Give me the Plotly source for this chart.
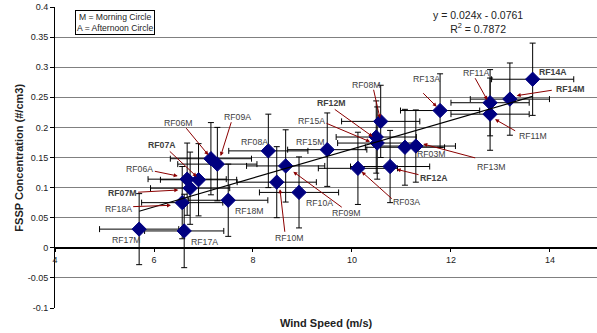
import plotly.graph_objects as go

# ---------------- data ----------------
flights = ["RF17M", "RF17A", "RF18A", "RF07M", "RF06A", "RF07A", "RF06M", "RF09A",
           "RF18M", "RF08A", "RF10M", "RF09M", "RF10A", "RF15M", "RF03A", "RF12M",
           "RF15A", "RF08M", "RF12A", "RF03M", "RF13M", "RF13A", "RF11A", "RF11M",
           "RF14M", "RF14A"]
wind_speed = [5.70, 6.61, 6.57, 6.73, 6.67, 6.90, 7.15, 7.28,
              7.50, 8.31, 8.48, 8.66, 8.93, 9.50, 10.12, 10.49,
              10.51, 10.58, 10.77, 11.07, 11.29, 11.78, 12.79, 12.79,
              13.19, 13.65]
fssp_conc = [0.031, 0.028, 0.075, 0.099, 0.114, 0.113, 0.148, 0.139,
             0.079, 0.161, 0.109, 0.136, 0.092, 0.163, 0.132, 0.184,
             0.174, 0.210, 0.135, 0.167, 0.169, 0.228, 0.241, 0.222,
             0.247, 0.280]
wind_err = [0.80, 0.80, 0.82, 0.80, 0.79, 0.77, 0.82, 0.80,
            0.80, 0.80, 0.80, 0.79, 0.80, 0.80, 0.80, 0.81,
            0.80, 0.79, 0.80, 0.80, 0.80, 0.80, 0.79, 0.79,
            0.80, 0.83]
fssp_err = [0.059, 0.061, 0.060, 0.060, 0.060, 0.060, 0.060, 0.061,
            0.060, 0.061, 0.059, 0.060, 0.059, 0.061, 0.060, 0.060,
            0.060, 0.060, 0.060, 0.063, 0.060, 0.061, 0.055, 0.060,
            0.060, 0.060]
bold_flights = ["RF07A", "RF07M", "RF12M", "RF12A", "RF14A", "RF14M"]

fit_slope = 0.024
fit_intercept = -0.0761
fit_r2 = 0.7872

y_tickvals = [-0.1, -0.05, 0, 0.05, 0.1, 0.15, 0.2, 0.25, 0.3, 0.35, 0.4]
y_ticktext = ["-0.1", "-0.05", "0", "0.05", "0.1", "0.15", "0.2", "0.25", "0.3", "0.35", "0.4"]
x_tickvals = [4, 6, 8, 10, 12, 14]
x_ticktext = ["4", "6", "8", "10", "12", "14"]

# ---------------- label placement (layout) ----------------
label_pos = {
    "RF17M": (5.434, 0.013), "RF17A": (7.02, 0.009), "RF18A": (5.273, 0.0645),
    "RF07M": (5.354, 0.0905), "RF06A": (5.707, 0.131), "RF07A": (6.152, 0.171),
    "RF06M": (6.485, 0.207), "RF09A": (7.697, 0.217), "RF08A": (8.034, 0.175),
    "RF15M": (9.16, 0.176), "RF18M": (7.913, 0.0616), "RF10M": (8.721, 0.0158),
    "RF10A": (9.347, 0.075), "RF09M": (9.875, 0.0573), "RF03A": (11.105, 0.0756),
    "RF12A": (11.65, 0.1154), "RF03M": (11.6, 0.1558), "RF13M": (12.814, 0.1347),
    "RF11M": (13.663, 0.1857), "RF11A": (12.509, 0.291), "RF13A": (11.5, 0.280),
    "RF14A": (14.057, 0.2925), "RF14M": (14.404, 0.2638), "RF08M": (10.279, 0.2704),
    "RF12M": (9.576, 0.241), "RF15A": (9.172, 0.2106),
}
# arrow: (tail x, tail y, head x, head y)
arrows = {
    "RF18A": (5.549, 0.0683, 6.343, 0.0706),
    "RF07M": (5.65, 0.0922, 6.491, 0.096),
    "RF06A": (5.986, 0.1276, 6.479, 0.1193),
    "RF07A": (6.289, 0.1625, 6.863, 0.1181),
    "RF06M": (6.626, 0.2012, 7.097, 0.1542),
    "RF09A": (7.57, 0.2111, 7.347, 0.1525),
    "RF10M": (8.646, 0.0241, 8.545, 0.0972),
    "RF09M": (9.824, 0.0656, 8.814, 0.1264),
    "RF03A": (10.834, 0.0794, 10.196, 0.1264),
    "RF12A": (11.374, 0.1209, 10.903, 0.1304),
    "RF13M": (12.519, 0.1487, 11.44, 0.1724),
    "RF11M": (13.327, 0.1929, 12.889, 0.2135),
    "RF11A": (12.471, 0.2842, 12.733, 0.2455),
    "RF13A": (11.408, 0.2593, 11.711, 0.2344),
    "RF14M": (14.067, 0.2621, 13.327, 0.2527),
    "RF08M": (10.43, 0.265, 10.566, 0.2151),
    "RF12M": (9.622, 0.2317, 10.418, 0.1846),
    "RF15A": (9.455, 0.2078, 10.364, 0.1762),
}

FONT = "Liberation Sans, Arial, sans-serif"

fig = go.Figure()

fig.add_trace(go.Scatter(
    x=wind_speed, y=fssp_conc, mode="markers",
    marker=dict(symbol="diamond", size=11, color="#000080",
                line=dict(color="#000080", width=1)),
    error_x=dict(type="data", array=wind_err, color="black", thickness=1, width=3),
    error_y=dict(type="data", array=fssp_err, color="black", thickness=1, width=3),
    showlegend=False, hoverinfo="skip",
))

x_fit = [min(wind_speed), max(wind_speed)]
y_fit = [fit_slope * v + fit_intercept for v in x_fit]
fig.add_trace(go.Scatter(x=x_fit, y=y_fit, mode="lines",
                         line=dict(color="black", width=1.2),
                         showlegend=False, hoverinfo="skip"))

annotations = []
for name, (ax, ay, hx, hy) in arrows.items():
    annotations.append(dict(
        x=hx, y=hy, ax=ax, ay=ay, xref="x", yref="y", axref="x", ayref="y",
        text="", showarrow=True, arrowhead=2, arrowsize=0.8, arrowwidth=1,
        arrowcolor="#8B0000", standoff=0, startstandoff=0))
for name in flights:
    lx, ly = label_pos[name]
    txt = f"<b>{name}</b>" if name in bold_flights else name
    annotations.append(dict(
        x=lx, y=ly, xref="x", yref="y", text=txt, showarrow=False,
        font=dict(family=FONT, size=8.7, color="#404040"),
        xanchor="center", yanchor="middle"))

annotations.append(dict(
    x=5.212, y=0.375, xref="x", yref="y",
    text="M = Morning Circle<br>A = Afternoon Circle", showarrow=False,
    font=dict(family=FONT, size=8.6, color="#222222"),
    bordercolor="black", borderwidth=1, borderpad=1, bgcolor="white",
    align="center", xanchor="center", yanchor="middle"))
annotations.append(dict(
    x=12.545, y=0.375, xref="x", yref="y",
    text=f"y = {fit_slope}x - {abs(fit_intercept)}<br>R<sup>2</sup> = {fit_r2}",
    showarrow=False, font=dict(family=FONT, size=10.5, color="#222222"),
    align="center", xanchor="center", yanchor="middle"))
annotations.append(dict(
    x=0.5, y=-0.05, xref="paper", yref="paper", text="<b>Wind Speed (m/s)</b>",
    showarrow=False, font=dict(family=FONT, size=11, color="#222222"),
    xanchor="center", yanchor="middle"))
annotations.append(dict(
    x=-0.068, y=0.5, xref="paper", yref="paper",
    text="<b>FSSP Concentration (#/cm3)</b>", textangle=-90,
    showarrow=False, font=dict(family=FONT, size=11, color="#222222"),
    xanchor="center", yanchor="middle"))

fig.update_layout(
    width=597, height=333,
    margin=dict(l=55, r=0, t=7, b=25),
    paper_bgcolor="white", plot_bgcolor="white",
    font=dict(family=FONT, size=9, color="#222222"),
    annotations=annotations,
    hovermode=False,
    xaxis=dict(range=[4, 14.95], tickvals=x_tickvals, ticktext=x_ticktext,
               showgrid=False, zeroline=False, showline=True, linecolor="black",
               linewidth=1, ticks="outside", ticklen=3, tickcolor="black",
               anchor="free", position=0.2,
               tickfont=dict(family=FONT, size=9, color="#222222")),
    yaxis=dict(range=[-0.1, 0.4], tickvals=y_tickvals, ticktext=y_ticktext,
               showgrid=True, gridcolor="#808080", gridwidth=1,
               zeroline=True, zerolinecolor="black", zerolinewidth=1,
               showline=True, linecolor="black", linewidth=1,
               ticks="outside", ticklen=4, tickcolor="black",
               tickfont=dict(family=FONT, size=9, color="#222222")),
)

fig.write_html("out.html", config={"displayModeBar": False},
               post_script="document.body.style.margin='0';document.body.style.overflow='hidden';")
